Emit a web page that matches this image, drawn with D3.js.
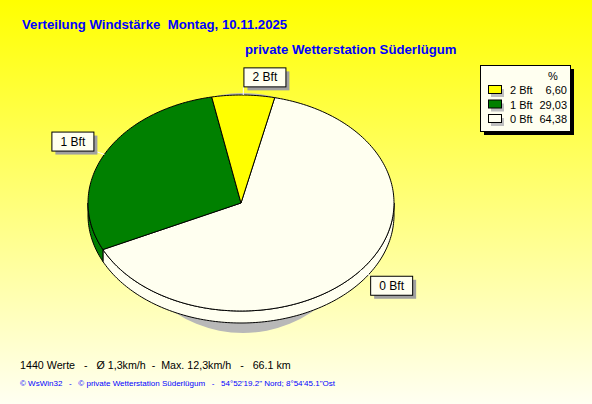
<!DOCTYPE html>
<html>
<head>
<meta charset="utf-8">
<script src="https://cdn.jsdelivr.net/npm/d3@7"></script>
<style>
  body { margin: 0; }
  text { font-family: "Liberation Sans", Arial, sans-serif; }
</style>
</head>
<body>
<svg id="chart" width="592" height="404"></svg>
<script>
var categories = ["0 Bft", "1 Bft", "2 Bft"];
var percents = [64.38, 29.03, 6.60];
var percentLabels = ["64,38", "29,03", "6,60"];
var colors = ["#FFFFF0", "#008000", "#FFFF00"];

var width = 592, height = 404;
var cx = 241, cy = 203, rx = 153, ry = 108, depth = 12;

var svg = d3.select("#chart");

// background
var defs = svg.append("defs");
var grad = defs.append("linearGradient")
  .attr("id", "bg").attr("x1", 0).attr("y1", 0).attr("x2", 0).attr("y2", 1);
grad.append("stop").attr("offset", "0%").attr("stop-color", "#FFFF00");
grad.append("stop").attr("offset", "100%").attr("stop-color", "#FFFFF2");
svg.append("rect").attr("width", width).attr("height", height).attr("fill", "url(#bg)");

// titles
svg.append("text").attr("x", 22).attr("y", 29)
  .attr("font-size", 13.2).attr("font-weight", "bold").attr("fill", "#0000FF")
  .attr("xml:space", "preserve")
  .text("Verteilung Windstärke  Montag, 10.11.2025");
svg.append("text").attr("x", 245).attr("y", 54)
  .attr("font-size", 13.2).attr("font-weight", "bold").attr("fill", "#0000FF")
  .text("private Wetterstation Süderlügum");

// pie angles
var pie = d3.pie().sort(null).startAngle(0.222).endAngle(0.222 + 2 * Math.PI);
var arcs = pie(percents);

function pt(a, k, dy) {
  k = k || 1; dy = dy || 0;
  return [cx + rx * k * Math.sin(a), cy - ry * k * Math.cos(a) + dy];
}
function arcPts(a0, a1, dy) {
  var n = Math.max(2, Math.ceil(Math.abs(a1 - a0) / 0.02));
  return d3.range(n + 1).map(function(i) { return pt(a0 + (a1 - a0) * i / n, 1, dy); });
}
var line = d3.line();

// shadow
svg.append("ellipse")
  .attr("cx", cx + 2).attr("cy", cy + 10)
  .attr("rx", 122).attr("ry", ry + 12)
  .attr("fill", "#B8B8B8");

// sides (front half only)
arcs.forEach(function(d, i) {
  [[Math.PI / 2, 3 * Math.PI / 2], [Math.PI / 2 + 2 * Math.PI, 3 * Math.PI / 2 + 2 * Math.PI]].forEach(function(w) {
    var s = Math.max(d.startAngle, w[0]), e = Math.min(d.endAngle, w[1]);
    if (e <= s) return;
    var top = arcPts(s, e, 0);
    var bot = arcPts(e, s, depth);
    svg.append("path")
      .attr("d", line(top.concat(bot)) + "Z")
      .attr("fill", colors[i])
      .attr("stroke", "#000").attr("stroke-width", 1);
  });
});

// top faces
arcs.forEach(function(d, i) {
  var p = [[cx, cy]].concat(arcPts(d.startAngle, d.endAngle, 0));
  svg.append("path")
    .attr("d", line(p) + "Z")
    .attr("fill", colors[i])
    .attr("stroke", "#000").attr("stroke-width", 1)
    .attr("stroke-linejoin", "round");
});

// slice labels
var boxW = 42, boxH = 19;
arcs.forEach(function(d, i) {
  var mid = (d.startAngle + d.endAngle) / 2;
  var edge = pt(mid, 1);
  var anc = pt(mid, 1.08);
  var bx = Math.sin(mid) >= 0 ? anc[0] : anc[0] - boxW;
  var by = Math.cos(mid) >= 0 ? anc[1] - boxH : anc[1];
  svg.append("line")
    .attr("x1", edge[0]).attr("y1", edge[1]).attr("x2", anc[0]).attr("y2", anc[1])
    .attr("stroke", "#FFFFFF").attr("stroke-width", 1);
  svg.append("rect")
    .attr("x", bx + 4).attr("y", by + 4).attr("width", boxW).attr("height", boxH)
    .attr("fill", "#A0A0A0");
  svg.append("rect")
    .attr("x", bx + 0.5).attr("y", by + 0.5).attr("width", boxW).attr("height", boxH)
    .attr("fill", "#FFFFF0").attr("stroke", "#000");
  svg.append("text")
    .attr("x", bx + boxW / 2 + 0.5).attr("y", by + 14)
    .attr("text-anchor", "middle").attr("font-size", 12).attr("fill", "#000")
    .text(categories[i]);
});

// legend
var lx = 480, ly = 65, lw = 90, lh = 66;
svg.append("rect").attr("x", lx + 4).attr("y", ly + 4).attr("width", lw).attr("height", lh).attr("fill", "#000");
svg.append("rect").attr("x", lx + 0.5).attr("y", ly + 0.5).attr("width", lw).attr("height", lh)
  .attr("fill", "#FFFFF0").attr("stroke", "#000");
svg.append("text").attr("x", lx + 73).attr("y", ly + 15)
  .attr("font-size", 11).attr("text-anchor", "middle").text("%");

var order = [2, 1, 0];
var rowY = d3.scalePoint().domain(order).range([ly + 25, ly + 54]);
order.forEach(function(i) {
  var y = rowY(i);
  svg.append("rect").attr("x", lx + 11).attr("y", y - 1).attr("width", 13).attr("height", 8).attr("fill", "#BEBEBE");
  svg.append("rect").attr("x", lx + 8.5).attr("y", y - 4.5).attr("width", 13).attr("height", 8)
    .attr("fill", colors[i]).attr("stroke", "#000");
  svg.append("text").attr("x", lx + 30).attr("y", y + 4).attr("font-size", 11).text(categories[i]);
  svg.append("text").attr("x", lx + 87).attr("y", y + 4).attr("font-size", 11)
    .attr("text-anchor", "end").text(percentLabels[i]);
});

// footer
svg.append("text").attr("x", 20).attr("y", 369).attr("font-size", 10.7).attr("fill", "#000")
  .attr("xml:space", "preserve")
  .text("1440 Werte   -   Ø 1,3km/h  -  Max. 12,3km/h   -   66.1 km");
svg.append("text").attr("x", 20).attr("y", 386).attr("font-size", 8).attr("fill", "#0000FF")
  .attr("xml:space", "preserve")
  .text("© WsWin32   -   © private Wetterstation Süderlügum   -   54°52'19.2\" Nord; 8°54'45.1\"Ost");
</script>
</body>
</html>
